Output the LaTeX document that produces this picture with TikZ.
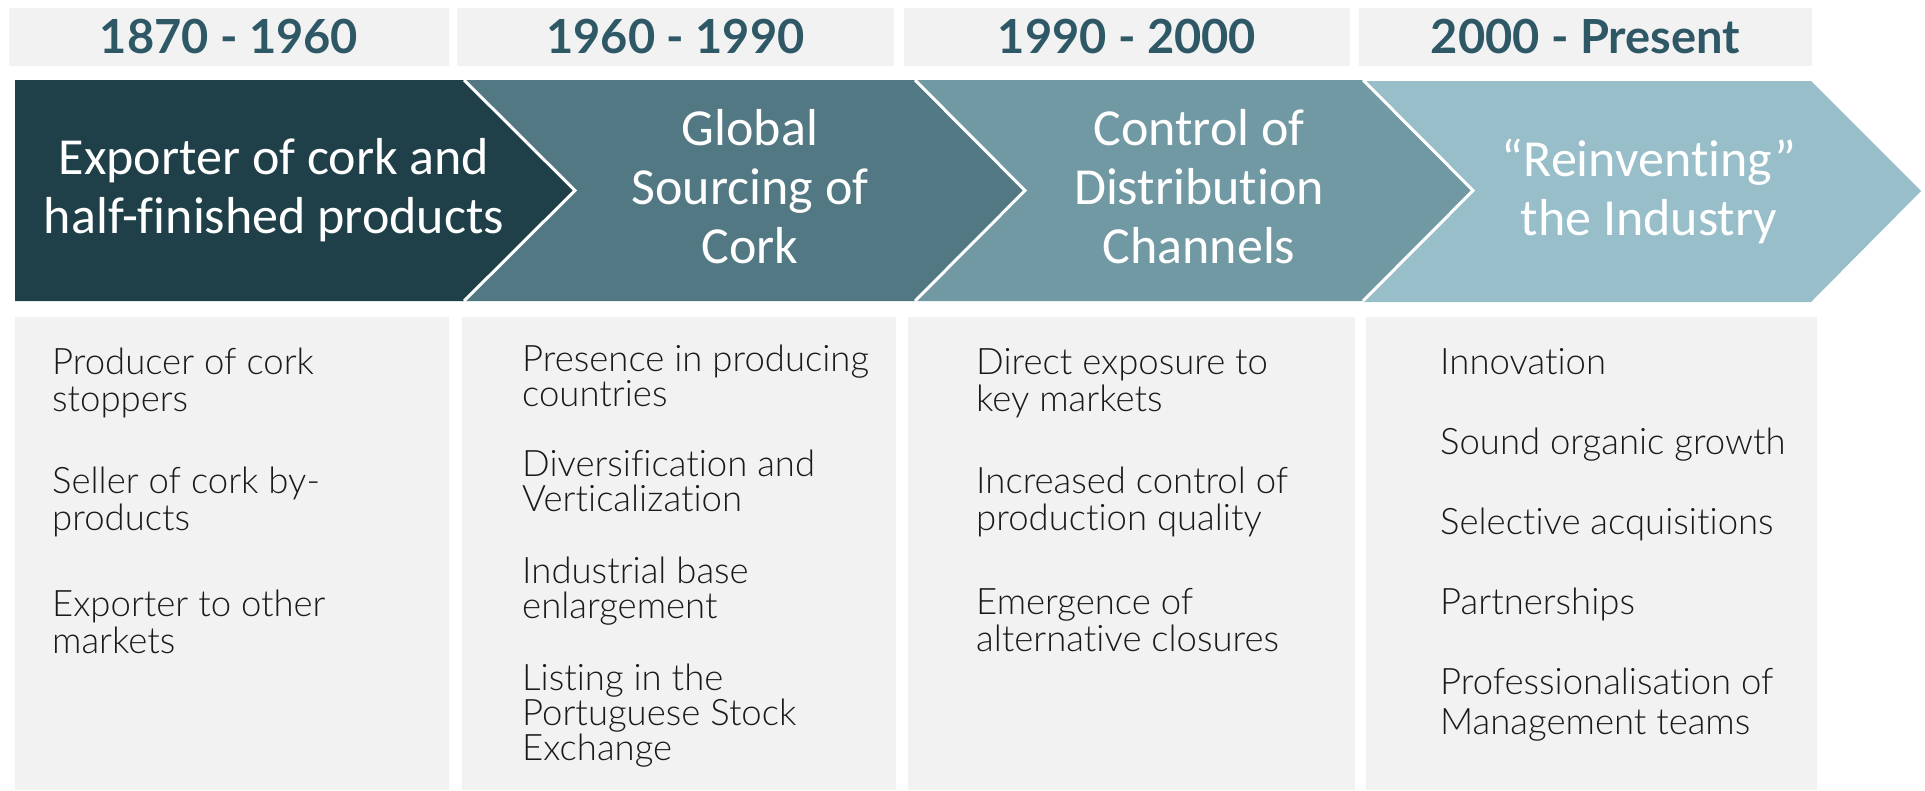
\documentclass[tikz,border=0pt]{standalone}
\usepackage{fontspec}
\setmainfont{Carlito}
\newfontfamily\chevfont{Carlito}[Ligatures=NoCommon]
\newfontfamily\headfont{Lato}
\newfontfamily\bodyfont{Lato Light}[Ligatures=NoCommon]
\definecolor{hdrbg}{HTML}{F2F2F2}
\definecolor{hdrtext}{HTML}{2F5866}
\definecolor{arrA}{HTML}{1F4049}
\definecolor{arrB}{HTML}{527883}
\definecolor{arrC}{HTML}{7199A4}
\definecolor{arrD}{HTML}{97BEC9}
\definecolor{bodytext}{HTML}{1A1A1A}
\tikzset{
  hdrbox/.style={fill=hdrbg},
  hdrtxt/.style={font=\headfont\bfseries\fontsize{47}{50}\selectfont, text=hdrtext, inner sep=0},
  chevedge/.style={draw=white, line width=3pt, line join=miter},
  chevtxt/.style={text=white, font=\chevfont\fontsize{52}{59}\selectfont, align=center, inner sep=0, anchor=base},
  itm/.style={anchor=base west, align=left, font=\bodyfont\fontsize{36.5}{37}\selectfont, text=bodytext, inner sep=0},
  itmtight/.style={itm, font=\bodyfont\fontsize{36.5}{35}\selectfont},
  itmloose/.style={itm, font=\bodyfont\fontsize{36.5}{40}\selectfont}
}
\begin{document}
\begin{tikzpicture}[x=1pt,y=-1pt]
\useasboundingbox (0,0) rectangle (1925,790);
% header boxes
\fill[hdrbox] (9,8) rectangle (449,66);
\fill[hdrbox] (457,8) rectangle (894,66);
\fill[hdrbox] (904,8) rectangle (1350,66);
\fill[hdrbox] (1359,8) rectangle (1812,66);
\node[hdrtxt] (h1) at (229,37) {1870 - 1960};
\node[hdrtxt] (h2) at (675.5,37) {1960 - 1990};
\node[hdrtxt] (h3) at (1127,37) {1990 - 2000};
\node[hdrtxt] (h4) at (1585.5,37) {2000 - Present};
% chevrons
\fill[arrD] (1363,81) -- (1811,81) -- (1921,191) -- (1811,302) -- (1363,302) -- (1473,191) -- cycle;
\fill[arrC] (915,80) -- (1363,80) -- (1473,190.5) -- (1363,301) -- (915,301) -- (1025,190.5) -- cycle;
\fill[arrB] (464,80) -- (915,80) -- (1025,190.5) -- (915,301) -- (464,301) -- (575,190.5) -- cycle;
\fill[arrA] (15,80) -- (464,80) -- (575,190.5) -- (464,301) -- (15,301) -- cycle;
\draw[chevedge] (464,80) -- (575,190.5) -- (464,301);
\draw[chevedge] (915,80) -- (1025,190.5) -- (915,301);
\draw[chevedge] (1363,80) -- (1473,190.5) -- (1363,301);
\node[chevtxt] (c1) at (274,233) {Exporter of cork and\\half-finished products};
\node[chevtxt] (c2) at (750,263) {Global\\Sourcing of\\Cork};
\node[chevtxt] (c3) at (1199,263) {Control of\\Distribution\\Channels};
\node[chevtxt] (c4) at (1649,235) {“Reinventing”\\the Industry};
% lower boxes
\fill[hdrbox] (15,317) rectangle (449,790);
\fill[hdrbox] (462,317) rectangle (896,790);
\fill[hdrbox] (908,317) rectangle (1355,790);
\fill[hdrbox] (1366,317) rectangle (1817,790);
% column 1
\node[itm] (a1) at (52,411) {Producer of cork\\stoppers};
\node[itm] (a2) at (52,530) {Seller of cork by-\\products};
\node[itm] (a3) at (52,653) {Exporter to other\\markets};
% column 2
\node[itmtight] (b1) at (522,406) {Presence in producing\\countries};
\node[itmtight] (b2) at (522,511) {Diversification and\\Verticalization};
\node[itmtight] (b3) at (522,618) {Industrial base\\enlargement};
\node[itmtight] (b4) at (522,760) {Listing in the\\Portuguese Stock\\Exchange};
% column 3
\node[itm] (d1) at (976,411) {Direct exposure to\\key markets};
\node[itm] (d2) at (976,530) {Increased control of\\production quality};
\node[itm] (d3) at (976,651) {Emergence of\\alternative closures};
% column 4
\node[itmloose] (e1) at (1440,374) {Innovation};
\node[itmloose] (e2) at (1440,454) {Sound organic growth};
\node[itmloose] (e3) at (1440,534) {Selective acquisitions};
\node[itmloose] (e4) at (1440,614) {Partnerships};
\node[itmloose] (e5) at (1440,734) {Professionalisation of\\Management teams};
\end{tikzpicture}
\end{document}
